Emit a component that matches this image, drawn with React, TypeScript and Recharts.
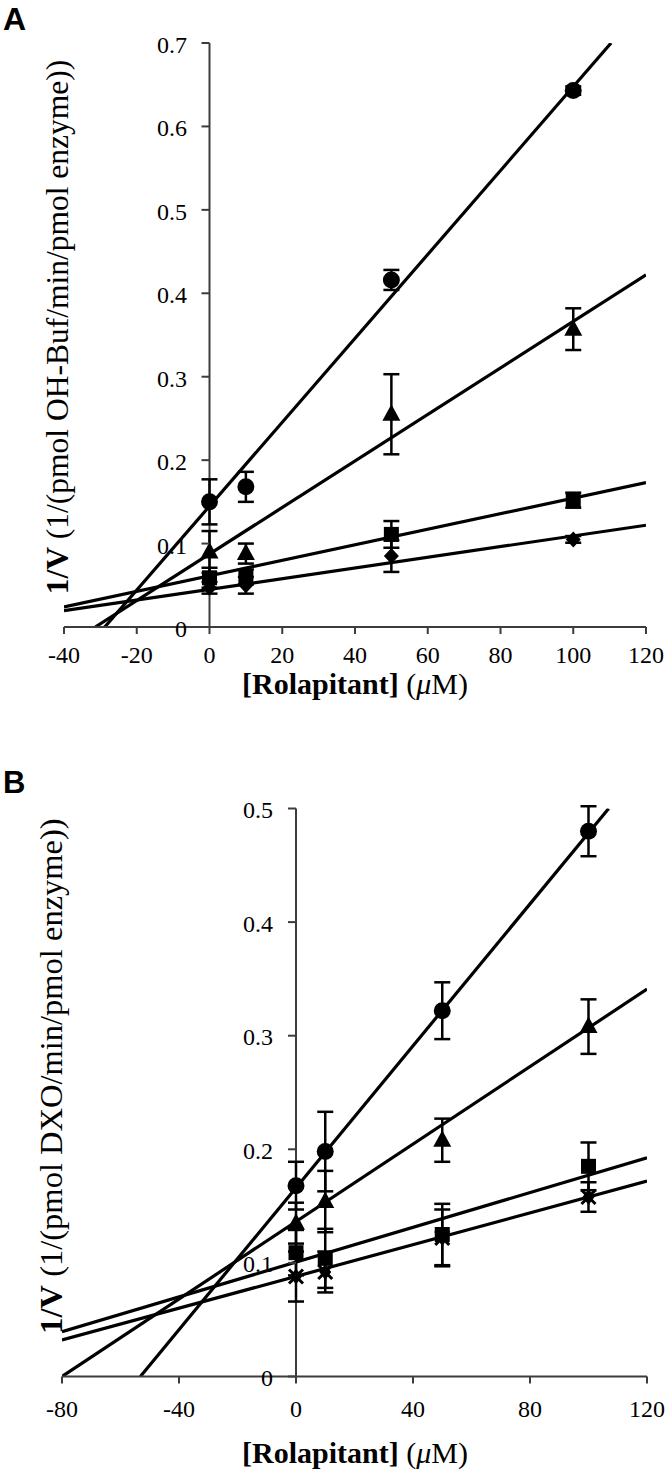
import React from "react";
import {
  ComposedChart,
  Line,
  Scatter,
  XAxis,
  YAxis,
  ErrorBar,
  ReferenceLine,
} from "recharts";

// rolapitant concentrations (uM)
const CONC = [0, 10, 50, 100];

// panel A: OH-Buf formation
const A_CIRCLE = [0.15, 0.168, 0.416, 0.643];
const A_CIRCLE_ERR = [0.027, 0.018, 0.012, 0.005];
const A_TRIANGLE = [0.09, 0.088, 0.255, 0.357];
const A_TRIANGLE_ERR = [0.025, 0.012, 0.048, 0.025];
const A_SQUARE = [0.059, 0.06, 0.111, 0.152];
const A_SQUARE_ERR = [0.012, 0.009, 0.016, 0.009];
const A_DIAMOND = [0.047, 0.05, 0.085, 0.105];
const A_DIAMOND_ERR = [0.007, 0.01, 0.019, 0.004];

// fitted lines, visible ends
const A_CIRCLE_FIT = [
  { x: -28.8, y: 0 },
  { x: 110.4, y: 0.7 },
];
const A_TRIANGLE_FIT = [
  { x: -31.4, y: 0 },
  { x: 120, y: 0.422 },
];
const A_SQUARE_FIT = [
  { x: -40, y: 0.024 },
  { x: 120, y: 0.173 },
];
const A_DIAMOND_FIT = [
  { x: -40, y: 0.0195 },
  { x: 120, y: 0.122 },
];

const A_X_TICKS = [-40, -20, 0, 20, 40, 60, 80, 100, 120];
const A_Y_TICKS = [0, 0.1, 0.2, 0.3, 0.4, 0.5, 0.6, 0.7];

// panel B: DXO formation
const B_CIRCLE = [0.168, 0.198, 0.322, 0.48];
const B_CIRCLE_ERR = [0.021, 0.035, 0.025, 0.022];
const B_TRIANGLE = [0.135, 0.154, 0.208, 0.308];
const B_TRIANGLE_ERR = [0.018, 0.027, 0.019, 0.024];
const B_SQUARE = [0.109, 0.104, 0.125, 0.185];
const B_SQUARE_ERR = [0.02, 0.026, 0.027, 0.021];
const B_STAR = [0.088, 0.092, 0.122, 0.158];
const B_STAR_ERR = [0.022, 0.018, 0.025, 0.013];

const B_CIRCLE_FIT = [
  { x: -53.2, y: 0 },
  { x: 106.9, y: 0.5 },
];
const B_TRIANGLE_FIT = [
  { x: -80, y: 0 },
  { x: 120, y: 0.341 },
];
const B_SQUARE_FIT = [
  { x: -80, y: 0.0395 },
  { x: 120, y: 0.1925 },
];
const B_STAR_FIT = [
  { x: -80, y: 0.0322 },
  { x: 120, y: 0.172 },
];

const B_X_TICKS = [-80, -40, 0, 40, 80, 120];
const B_Y_TICKS = [0, 0.1, 0.2, 0.3, 0.4, 0.5];

const WIDTH = 668;
const AXIS = "#3c3c3c";
const SERIF = "'Liberation Serif', 'Times New Roman', serif";
const TICK_FONT = 24;

type Pt = { x: number; y: number; err: number };
type Kind = "circle" | "triangle" | "square" | "diamond" | "star";

const points = (ys: number[], errs: number[]): Pt[] =>
  CONC.map((x, i) => ({ x, y: ys[i], err: errs[i] }));

function Marker({ cx, cy, kind }: { cx: number; cy: number; kind: Kind }) {
  if (cx == null || cy == null) return null;
  switch (kind) {
    case "circle":
      return <circle cx={cx} cy={cy} r={8.5} fill="#000" />;
    case "triangle":
      return (
        <polygon
          points={`${cx},${cy - 10} ${cx - 9},${cy + 6.5} ${cx + 9},${cy + 6.5}`}
          fill="#000"
        />
      );
    case "square":
      return <rect x={cx - 7.5} y={cy - 7.5} width={15} height={15} fill="#000" />;
    case "diamond":
      return (
        <polygon
          points={`${cx},${cy - 8} ${cx + 7.5},${cy} ${cx},${cy + 8} ${cx - 7.5},${cy}`}
          fill="#000"
        />
      );
    default:
      return (
        <g>
          <polygon
            points={`${cx},${cy - 8} ${cx + 6},${cy} ${cx},${cy + 8} ${cx - 6},${cy}`}
            fill="#000"
          />
          <path
            d={`M${cx - 7},${cy - 7}L${cx + 7},${cy + 7}M${cx - 7},${cy + 7}L${cx + 7},${cy - 7}`}
            stroke="#000"
            strokeWidth={3}
          />
        </g>
      );
  }
}

interface Series {
  kind: Kind;
  data: Pt[];
  fit: { x: number; y: number }[];
}

interface PanelProps {
  top: number;
  height: number;
  margin: { top: number; right: number; bottom: number; left: number };
  xAxisHeight: number;
  xDomain: [number, number];
  yDomain: [number, number];
  xTicks: number[];
  yTicks: number[];
  xTickDy: number;
  yTickDx: number;
  yTickDy: number;
  series: Series[];
}

function Panel(p: PanelProps) {
  // y axis sits at x = 0 inside the plot, so its ticks are drawn there
  const plotLeft = p.margin.left + 1;
  const plotW = WIDTH - plotLeft - p.margin.right;
  const zeroX =
    plotLeft + ((0 - p.xDomain[0]) / (p.xDomain[1] - p.xDomain[0])) * plotW;

  const XTick = (props: any) => (
    <text
      x={props.x}
      y={props.y + p.xTickDy}
      textAnchor="middle"
      fontFamily={SERIF}
      fontSize={TICK_FONT}
      fill="#000"
    >
      {props.payload.value}
    </text>
  );

  const YTick = (props: any) => {
    const v = props.payload.value as number;
    return (
      <g>
        <line
          x1={zeroX - 8}
          x2={zeroX}
          y1={props.y}
          y2={props.y}
          stroke={AXIS}
          strokeWidth={2}
        />
        <text
          x={zeroX - p.yTickDx}
          y={props.y + p.yTickDy}
          textAnchor="end"
          fontFamily={SERIF}
          fontSize={TICK_FONT}
          fill="#000"
        >
          {v === 0 ? "0" : v.toFixed(1)}
        </text>
      </g>
    );
  };

  return (
    <div style={{ position: "absolute", left: 0, top: p.top }}>
      <ComposedChart width={WIDTH} height={p.height} margin={p.margin}>
        <XAxis
          type="number"
          dataKey="x"
          domain={p.xDomain}
          ticks={p.xTicks}
          interval={0}
          allowDataOverflow
          height={p.xAxisHeight}
          axisLine={{ stroke: AXIS, strokeWidth: 2 }}
          tickLine={{ stroke: AXIS, strokeWidth: 2 }}
          tickSize={7}
          tickMargin={0}
          tick={XTick}
        />
        <YAxis
          type="number"
          domain={p.yDomain}
          ticks={p.yTicks}
          interval={0}
          allowDataOverflow
          width={1}
          axisLine={false}
          tickLine={false}
          tick={YTick}
        />
        <ReferenceLine x={0} stroke={AXIS} strokeWidth={2} />
        {p.series.map((s, i) => (
          <Line
            key={"fit" + i}
            data={s.fit}
            dataKey="y"
            type="linear"
            stroke="#000"
            strokeWidth={3.2}
            dot={false}
            activeDot={false}
            isAnimationActive={false}
          />
        ))}
        {p.series.map((s, i) => (
          <Scatter
            key={"pts" + i}
            data={s.data}
            dataKey="y"
            isAnimationActive={false}
            shape={(sp: any) => <Marker cx={sp.cx} cy={sp.cy} kind={s.kind} />}
          >
            <ErrorBar
              dataKey="err"
              direction="y"
              width={8}
              stroke="#000"
              strokeWidth={2.5}
              isAnimationActive={false}
            />
          </Scatter>
        ))}
      </ComposedChart>
    </div>
  );
}

export default function App() {
  const seriesA: Series[] = [
    { kind: "circle", data: points(A_CIRCLE, A_CIRCLE_ERR), fit: A_CIRCLE_FIT },
    { kind: "triangle", data: points(A_TRIANGLE, A_TRIANGLE_ERR), fit: A_TRIANGLE_FIT },
    { kind: "square", data: points(A_SQUARE, A_SQUARE_ERR), fit: A_SQUARE_FIT },
    { kind: "diamond", data: points(A_DIAMOND, A_DIAMOND_ERR), fit: A_DIAMOND_FIT },
  ];
  const seriesB: Series[] = [
    { kind: "circle", data: points(B_CIRCLE, B_CIRCLE_ERR), fit: B_CIRCLE_FIT },
    { kind: "triangle", data: points(B_TRIANGLE, B_TRIANGLE_ERR), fit: B_TRIANGLE_FIT },
    { kind: "square", data: points(B_SQUARE, B_SQUARE_ERR), fit: B_SQUARE_FIT },
    { kind: "star", data: points(B_STAR, B_STAR_ERR), fit: B_STAR_FIT },
  ];

  return (
    <div
      style={{
        position: "absolute",
        left: 0,
        top: 0,
        width: WIDTH,
        height: 1473,
        background: "#fff",
        overflow: "hidden",
      }}
    >
      <Panel
        top={0}
        height={710}
        margin={{ top: 43, right: 22, bottom: 3, left: 63 }}
        xAxisHeight={80}
        xDomain={[-40, 120]}
        yDomain={[0, 0.7]}
        xTicks={A_X_TICKS}
        yTicks={A_Y_TICKS}
        xTickDy={29}
        yTickDx={22.5}
        yTickDy={10}
        series={seriesA}
      />
      <Panel
        top={740}
        height={733}
        margin={{ top: 68.5, right: 21, bottom: 6.5, left: 61 }}
        xAxisHeight={90}
        xDomain={[-80, 120]}
        yDomain={[0, 0.5]}
        xTicks={B_X_TICKS}
        yTicks={B_Y_TICKS}
        xTickDy={33.5}
        yTickDx={23}
        yTickDy={9.5}
        series={seriesB}
      />
      <svg
        width={WIDTH}
        height={1473}
        style={{ position: "absolute", left: 0, top: 0, pointerEvents: "none" }}
      >
        <text
          x={3}
          y={30}
          fontFamily="'Liberation Sans', Arial, sans-serif"
          fontWeight="bold"
          fontSize={32}
        >
          A
        </text>
        <text
          x={3}
          y={793}
          fontFamily="'Liberation Sans', Arial, sans-serif"
          fontWeight="bold"
          fontSize={31}
        >
          B
        </text>
        <text
          transform="translate(68,327) rotate(-90)"
          textAnchor="middle"
          fontFamily={SERIF}
          fontSize={31.5}
        >
          <tspan fontWeight="bold">1/V</tspan>
          <tspan> (1/(pmol OH-Buf/min/pmol enzyme))</tspan>
        </text>
        <text
          transform="translate(62,1076) rotate(-90)"
          textAnchor="middle"
          fontFamily={SERIF}
          fontSize={32.5}
        >
          <tspan fontWeight="bold">1/V</tspan>
          <tspan> (1/(pmol DXO/min/pmol enzyme))</tspan>
        </text>
        <text x={355} y={694} textAnchor="middle" fontFamily={SERIF} fontSize={30}>
          <tspan fontWeight="bold">[Rolapitant]</tspan>
          <tspan> (</tspan>
          <tspan fontStyle="italic">μ</tspan>
          <tspan>M)</tspan>
        </text>
        <text x={355} y={1463} textAnchor="middle" fontFamily={SERIF} fontSize={30}>
          <tspan fontWeight="bold">[Rolapitant]</tspan>
          <tspan> (</tspan>
          <tspan fontStyle="italic">μ</tspan>
          <tspan>M)</tspan>
        </text>
      </svg>
    </div>
  );
}
